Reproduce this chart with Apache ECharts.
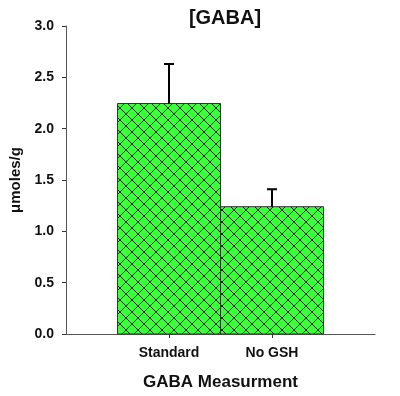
<!DOCTYPE html>
<html>
<head>
<meta charset="utf-8">
<script src="https://cdn.jsdelivr.net/npm/echarts@6/dist/echarts.min.js"></script>
<style>html,body{margin:0;padding:0;background:#fff}#c{width:400px;height:396px}</style>
</head>
<body>
<div id="c"></div>
<script>
const categories = ['Standard', 'No GSH'];
const means = [2.245, 1.24];
const errors = [0.385, 0.17];
const yTicks = [0, 0.5, 1.0, 1.5, 2.0, 2.5, 3.0];

// position of each category on the x value axis (0..6)
const catPos = categories.map((c, i) => 2 * (i + 1));

const tile = document.createElement('canvas');
tile.width = 12; tile.height = 12;
const g = tile.getContext('2d');
g.fillStyle = '#3cff3c';
g.fillRect(0, 0, 12, 12);
g.strokeStyle = 'rgba(0,30,0,0.95)';
g.lineWidth = 1;
g.beginPath();
g.moveTo(0, 0); g.lineTo(12, 12);
g.moveTo(12, 0); g.lineTo(0, 12);
g.stroke();

const chart = echarts.init(document.getElementById('c'), null, {renderer: 'canvas'});
const font = 'Liberation Sans, Arial, sans-serif';
chart.setOption({
  animation: false,
  title: {
    text: '[GABA]', left: 220, top: 3, textAlign: 'center',
    textStyle: {fontFamily: font, fontWeight: 'bold', fontSize: 20, color: '#111'}
  },
  grid: {left: 66, right: 25, top: 26, bottom: 62},
  xAxis: {
    type: 'value', min: 0, max: 6, interval: 1,
    name: 'GABA Measurment', nameLocation: 'middle', nameGap: 40,
    nameTextStyle: {fontFamily: font, fontWeight: 'bold', fontSize: 17, color: '#111'},
    axisLine: {show: true, lineStyle: {color: '#555', width: 1}},
    axisTick: {show: true, length: 4, lineStyle: {color: '#333'}, customValues: catPos},
    axisLabel: {
      customValues: catPos, margin: 12,
      formatter: v => categories[catPos.indexOf(v)] || '',
      fontFamily: font, fontWeight: 'bold', fontSize: 14, color: '#111'
    },
    splitLine: {show: false}
  },
  yAxis: {
    type: 'value', min: 0, max: 3, interval: 0.5,
    name: 'μmoles/g', nameLocation: 'middle', nameGap: 38,
    nameTextStyle: {fontFamily: font, fontWeight: 'bold', fontSize: 15, color: '#111'},
    axisLine: {show: true, lineStyle: {color: '#555', width: 1}},
    axisTick: {show: true, length: 4, inside: false, lineStyle: {color: '#333'}},
    axisLabel: {
      margin: 12, formatter: v => v.toFixed(1),
      fontFamily: font, fontWeight: 'bold', fontSize: 14, color: '#111'
    },
    splitLine: {show: false}
  },
  series: [
    {
      type: 'custom',
      data: catPos.map((p, i) => [p, means[i]]),
      renderItem: (params, api) => {
        const x = api.value(0), y = api.value(1);
        const tl = api.coord([x - 1, y]);
        const br = api.coord([x + 1, 0]);
        return {
          type: 'rect',
          shape: {x: tl[0], y: tl[1], width: br[0] - tl[0], height: br[1] - tl[1]},
          style: {fill: {image: tile, repeat: 'repeat'}, stroke: '#333', lineWidth: 1}
        };
      },
      z: 2
    },
    {
      type: 'custom',
      data: catPos.map((p, i) => [p, means[i], errors[i]]),
      renderItem: (params, api) => {
        const x = api.value(0), y = api.value(1), e = api.value(2);
        const b = api.coord([x, y]);
        const t = api.coord([x, y + e]);
        return {
          type: 'group',
          children: [
            {type: 'line', shape: {x1: b[0], y1: b[1], x2: t[0], y2: t[1]}, style: {stroke: '#000', lineWidth: 2}},
            {type: 'line', shape: {x1: t[0] - 5, y1: t[1], x2: t[0] + 5, y2: t[1]}, style: {stroke: '#000', lineWidth: 2}}
          ]
        };
      },
      z: 3
    }
  ]
});
</script>
</body>
</html>
